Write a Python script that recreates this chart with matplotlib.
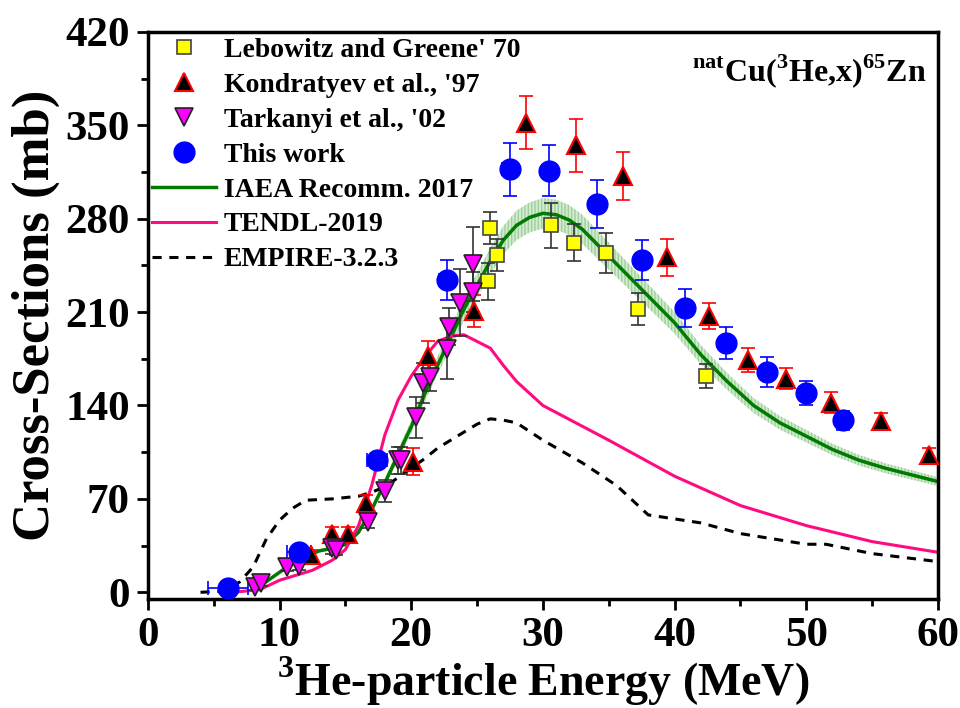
import numpy as np
import matplotlib
matplotlib.use("Agg")
import matplotlib.pyplot as plt

plt.rcParams['font.family'] = ['Liberation Serif', 'DejaVu Serif']
plt.rcParams['font.weight'] = 'bold'
plt.rcParams['mathtext.fontset'] = 'custom'
plt.rcParams['mathtext.rm'] = 'Liberation Serif:bold'
plt.rcParams['mathtext.bf'] = 'Liberation Serif:bold'

# Lebowitz and Greene '70
leb_e = [25.8, 26.0, 26.5, 30.6, 32.4, 34.8, 37.2, 42.4]
leb_s = [233, 273, 253, 275, 262, 254, 212, 162]
leb_err = [14, 12, 12, 17, 14, 15, 12, 9]

# Kondratyev et al. '97
kon_e = [12.4, 14.0, 15.2, 16.6, 20.1, 21.3, 24.8, 28.7, 32.5, 36.1, 39.4,
         42.6, 45.6, 48.5, 51.9, 55.7, 59.3]
kon_s = [28, 44, 44, 67, 98, 177, 211, 352, 335, 312, 251, 207, 174, 160, 142, 128, 103]
kon_err = [4, 5, 5, 6, 10, 11, 12, 20, 20, 18, 14, 10, 9, 8, 8, 6, 5]

# Tarkanyi et al. '02
tar_e = [8.1, 8.6, 10.6, 11.5, 14.0, 14.3, 16.7, 18.0, 19.0, 19.2, 20.4, 20.9,
         21.4, 22.7, 22.9, 23.7, 24.7, 24.7]
tar_s = [4, 7, 19, 20, 33, 32, 53, 76, 99, 99, 131, 157, 161, 182, 199, 217, 225, 246]
tar_err = [2, 2, 3, 3, 4, 4, 5, 8, 10, 10, 15, 15, 10, 22, 14, 25, 15, 28]

# This work
tw_e = [6.1, 11.5, 17.4, 22.7, 27.5, 30.5, 34.1, 37.5, 40.8, 43.9, 47.0, 50.0, 52.8]
tw_s = [3, 30, 99, 234, 317, 316, 291, 249, 213, 187, 165, 149, 129]
tw_xerr = [1.5, 0.9, 0.75, 0.6, 0.6, 0.55, 0.5, 0.5, 0.45, 0.45, 0.4, 0.4, 0.4]
tw_yerr = [1, 3, 5, 15, 20, 19, 18, 15, 14, 12, 11, 9, 7]

# IAEA recommended 2017
iaea_e = [8, 9, 10, 11, 12, 13, 14, 15, 16, 17, 18, 19, 20, 21, 22, 23, 24, 25, 26,
          27, 28, 29, 30, 31, 32, 33, 34, 35, 36, 37, 38, 39, 40, 41, 42, 44, 46,
          48, 50, 52, 54, 56, 58, 60]
iaea_s = [2, 8, 15, 22, 27, 31, 33, 36, 45, 62, 82, 103, 124, 148, 170, 191, 212,
          230, 248, 264, 275, 281, 284, 283, 279, 272, 262, 252, 242, 232, 222, 212,
          202, 190, 178, 158, 140, 127, 117, 107, 99, 93, 88, 83]

# TENDL-2019
tendl_e = [5.5, 7, 8.5, 10, 11, 12.5, 14, 15, 16, 17, 18, 19, 20, 21, 22, 23, 24,
           25, 26, 27, 28, 30, 35, 40, 45, 50, 55, 60]
tendl_s = [0, 0.5, 2, 9, 12, 16.5, 24, 32, 50, 80, 118, 144, 162, 176, 188, 192,
           193, 188, 183, 170, 158, 140, 114, 87, 65, 50, 38, 30]

# EMPIRE-3.2.3
emp_e = [4, 6, 7, 8, 9, 10, 11, 12, 14, 16, 17, 18, 19, 20, 21, 22, 24, 25, 26, 27,
         28, 30, 33, 35.6, 38, 42, 45, 50, 51.5, 55, 60]
emp_s = [0, 1, 8, 19, 40, 54, 63, 69, 70, 72, 75, 79, 86, 93, 100, 108, 120, 126,
         130, 129, 127, 114, 97, 80, 58, 52, 44, 36, 36, 29, 23]

fig = plt.figure(figsize=(9.6, 7.08), dpi=100)
ax = fig.add_axes([0.154, 0.154, 0.823, 0.801])

# Curves
iaea_arr = np.array(iaea_s, dtype=float)
ax.fill_between(iaea_e, iaea_arr * 0.96, iaea_arr * 1.04, facecolor='#d4ebd1',
                edgecolor='#9ed09a', hatch='|||||', linewidth=0, zorder=1)
ax.plot(iaea_e, iaea_s, color='#007a00', lw=2.5, zorder=2, label='IAEA Recomm. 2017')
ax.plot(tendl_e, tendl_s, color='#ff0a80', lw=2.2, zorder=2, label='TENDL-2019')
ax.plot(emp_e, emp_s, color='black', lw=2.2, ls=(0, (3, 2.5)), zorder=2, label='EMPIRE-3.2.3')

# Error bars
ax.errorbar(leb_e, leb_s, yerr=leb_err, fmt='none', ecolor='#333333', elinewidth=1.2,
            capsize=5, capthick=1.2, zorder=3)
ax.errorbar(kon_e, kon_s, yerr=kon_err, fmt='none', ecolor='red', elinewidth=1.2,
            capsize=5, capthick=1.2, zorder=3)
ax.errorbar(tar_e, tar_s, yerr=tar_err, fmt='none', ecolor='#333333', elinewidth=1.2,
            capsize=5, capthick=1.2, zorder=3)
ax.errorbar(tw_e, tw_s, xerr=tw_xerr, yerr=tw_yerr, fmt='none', ecolor='blue',
            elinewidth=1.2, capsize=5, capthick=1.2, zorder=3)

# Markers
ax.plot(leb_e, leb_s, 's', ms=10, mfc='#ffff00', mec='#444444', mew=1.2,
        ls='none', zorder=4, label="Lebowitz and Greene' 70")
ax.plot(kon_e, kon_s, '^', ms=13, mfc='black', mec='red', mew=1.5,
        ls='none', zorder=4, label="Kondratyev et al., '97")
ax.plot(tar_e, tar_s, 'v', ms=13, mfc='#ff00ff', mec='#222222', mew=1.2,
        ls='none', zorder=4, label="Tarkanyi et al., '02")
ax.plot(tw_e, tw_s, 'o', ms=15, mfc='blue', mec='blue', ls='none',
        zorder=5, label='This work')

handles, labels = ax.get_legend_handles_labels()
order = [3, 4, 5, 6, 0, 1, 2]
ax.legend([handles[i] for i in order], [labels[i] for i in order], loc='upper left',
          bbox_to_anchor=(0.005, 0.99), frameon=False, handlelength=2.3,
          labelspacing=0.34, handletextpad=0.3, borderpad=0, borderaxespad=0,
          prop={'weight': 'bold', 'size': 20})

ax.text(0.985, 0.93, r'$^{\mathbf{nat}}$Cu($^{\mathbf{3}}$He,x)$^{\mathbf{65}}$Zn',
        transform=ax.transAxes, ha='right', va='center', fontsize=23, fontweight='bold')

ax.set_xlim(0, 60)
ax.set_ylim(-5, 420)
ax.set_xticks(np.arange(0, 61, 10))
ax.set_yticks(np.arange(0, 421, 70))
ax.set_xticks(np.arange(5, 60, 10), minor=True)
ax.set_yticks(np.arange(35, 420, 70), minor=True)
ax.tick_params(which='major', direction='out', length=8, width=2, labelsize=31, pad=5)
ax.tick_params(which='minor', direction='out', length=5, width=2)
for lab in ax.get_xticklabels() + ax.get_yticklabels():
    lab.set_fontweight('bold')
for sp in ax.spines.values():
    sp.set_linewidth(2.5)

ax.set_xlabel(r'$^{\mathbf{3}}$He-particle Energy (MeV)', fontsize=33, fontweight='bold', labelpad=0)
ax.set_ylabel('Cross-Sections (mb)', fontsize=38, fontweight='bold', labelpad=4)

fig.savefig('out.png', dpi=100)
